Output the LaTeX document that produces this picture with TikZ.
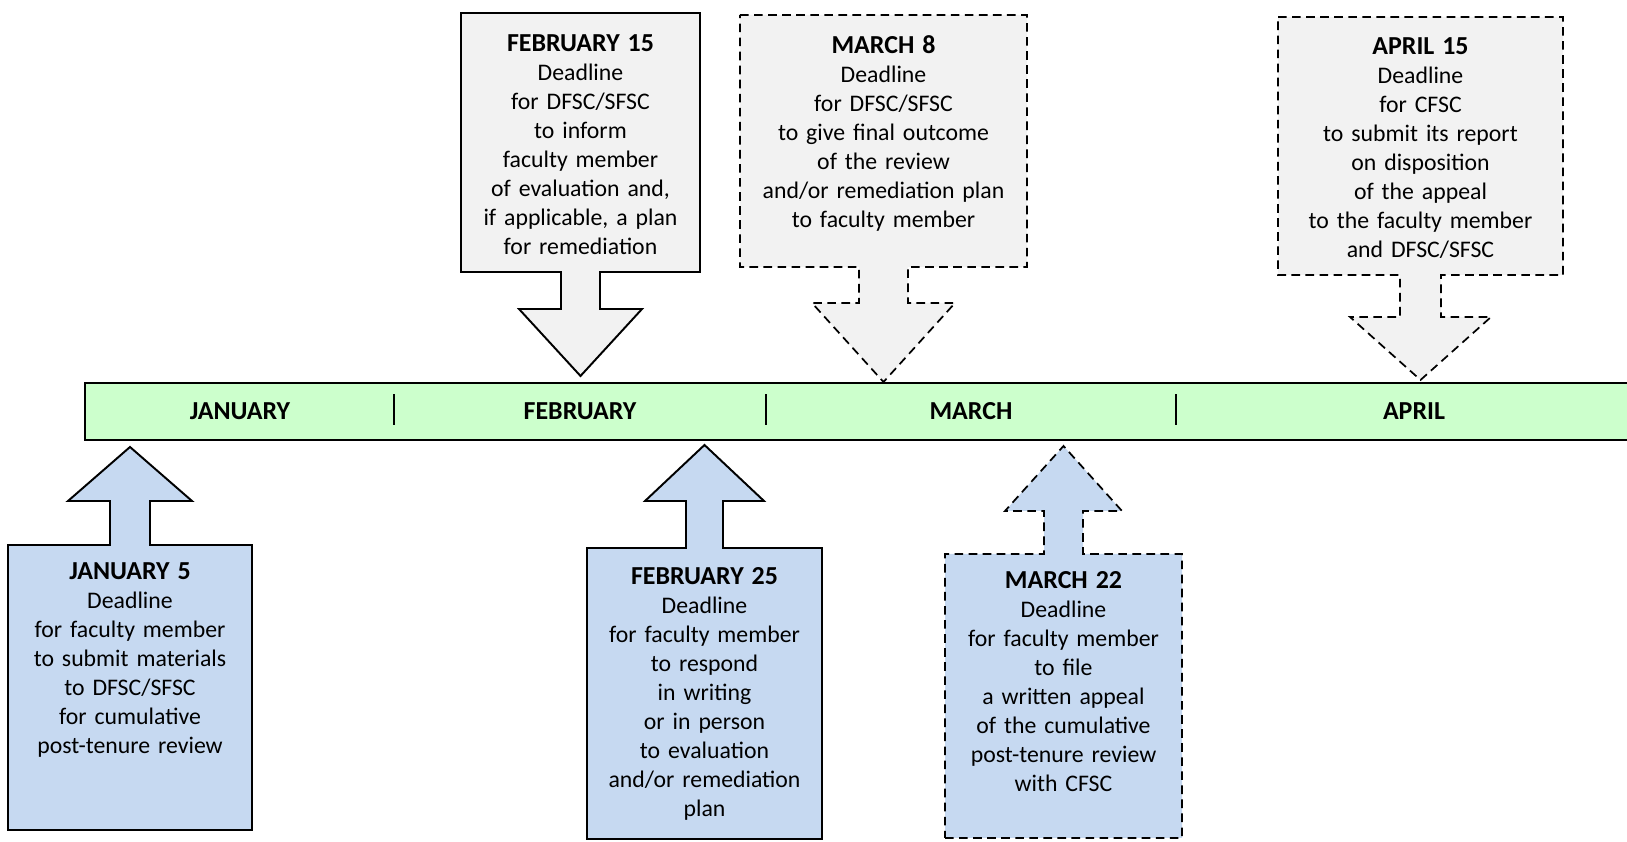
\documentclass[tikz,border=0pt]{standalone}
\usepackage{fontspec}
\setmainfont{Carlito}
\usepackage{xcolor}
\definecolor{BarGreen}{HTML}{CCFFCC}
\definecolor{CallBlue}{HTML}{C6D9F1}
\definecolor{CallGrey}{HTML}{F2F2F2}

\begin{document}
\begin{tikzpicture}[x=1.626cm, y=1.626cm,
    solidcall/.style={draw=black, line width=0.9pt},
    dashcall/.style={draw=black, line width=0.8pt, dash pattern=on 4pt off 2.5pt},
    calltext/.style={anchor=base, align=center, inner sep=0pt, text width=6cm,
      font=\fontsize{11}{13.4}\selectfont},
    monthlabel/.style={font=\bfseries\fontsize{12}{14}\selectfont}]
  \useasboundingbox (0,0) rectangle (16.27,8.42);
  % Timeline bar
  \fill[BarGreen] (0.85,4.02) rectangle (16.4,4.59);
  \draw[line width=1.15pt] (16.4,4.02) -- (0.85,4.02) -- (0.85,4.59) -- (16.4,4.59);
  % month separators
  \foreach \x in {3.94,7.66,11.76}
    \draw[line width=0.9pt] (\x,4.17) -- (\x,4.48);
  % Months
  \node[monthlabel] (jan) at (2.40,4.31) {JANUARY};
  \node[monthlabel] (feb) at (5.80,4.31) {FEBRUARY};
  \node[monthlabel] (mar) at (9.71,4.31) {MARCH};
  \node[monthlabel] (apr) at (14.14,4.31) {APRIL};

  % Callouts above the bar
  \draw[solidcall, fill=CallGrey] (4.61,8.29) -- (7.00,8.29) -- (7.00,5.70) -- (6.00,5.70)
    -- (6.00,5.33) -- (6.42,5.33) -- (5.805,4.66) -- (5.19,5.33) -- (5.61,5.33)
    -- (5.61,5.70) -- (4.61,5.70) -- cycle;
  \draw[dashcall, fill=CallGrey] (7.40,8.27) -- (10.27,8.27) -- (10.27,5.75) -- (9.08,5.75)
    -- (9.08,5.39) -- (9.55,5.39) -- (8.835,4.60) -- (8.12,5.39) -- (8.59,5.39)
    -- (8.59,5.75) -- (7.40,5.75) -- cycle;
  \draw[dashcall, fill=CallGrey] (12.78,8.25) -- (15.63,8.25) -- (15.63,5.67) -- (14.41,5.67)
    -- (14.41,5.25) -- (14.91,5.25) -- (14.205,4.62) -- (13.50,5.25) -- (14.00,5.25)
    -- (14.00,5.67) -- (12.78,5.67) -- cycle;

  % Callouts below the bar
  \draw[solidcall, fill=CallBlue] (0.08,0.12) -- (2.52,0.12) -- (2.52,2.97) -- (1.50,2.97)
    -- (1.50,3.41) -- (1.92,3.41) -- (1.30,3.95) -- (0.68,3.41) -- (1.10,3.41)
    -- (1.10,2.97) -- (0.08,2.97) -- cycle;
  \draw[solidcall, fill=CallBlue] (5.87,0.03) -- (8.22,0.03) -- (8.22,2.94) -- (7.23,2.94)
    -- (7.23,3.41) -- (7.64,3.41) -- (7.045,3.97) -- (6.45,3.41) -- (6.86,3.41)
    -- (6.86,2.94) -- (5.87,2.94) -- cycle;
  \draw[dashcall, fill=CallBlue] (9.45,0.04) -- (11.82,0.04) -- (11.82,2.88) -- (10.83,2.88)
    -- (10.83,3.31) -- (11.22,3.31) -- (10.635,3.96) -- (10.05,3.31) -- (10.44,3.31)
    -- (10.44,2.88) -- (9.45,2.88) -- cycle;

  % Deadline texts
  \node[calltext] (feb15) at (5.805,7.90) {{\bfseries\fontsize{12}{13.4}\selectfont FEBRUARY 15}\\
    Deadline\\ for DFSC/SFSC\\ to inform\\ faculty member\\ of evaluation and,\\
    if applicable, a plan\\ for remediation};
  \node[calltext] (mar8) at (8.835,7.88) {{\bfseries\fontsize{12}{13.4}\selectfont MARCH 8}\\
    Deadline\\ for DFSC/SFSC\\ to give final outcome\\ of the review\\
    and/or remediation plan\\ to faculty member};
  \node[calltext] (apr15) at (14.205,7.87) {{\bfseries\fontsize{12}{13.4}\selectfont APRIL 15}\\
    Deadline\\ for CFSC\\ to submit its report\\ on disposition\\ of the appeal\\
    to the faculty member\\ and DFSC/SFSC};
  \node[calltext] (jan5) at (1.30,2.62) {{\bfseries\fontsize{12}{13.4}\selectfont JANUARY 5}\\
    Deadline\\ for faculty member\\ to submit materials\\ to DFSC/SFSC\\
    for cumulative\\ post-tenure review};
  \node[calltext] (feb25) at (7.045,2.57) {{\bfseries\fontsize{12}{13.4}\selectfont FEBRUARY 25}\\
    Deadline\\ for faculty member\\ to respond\\ in writing\\ or in person\\
    to evaluation\\ and/or remediation\\ plan};
  \node[calltext] (mar22) at (10.635,2.53) {{\bfseries\fontsize{12}{13.4}\selectfont MARCH 22}\\
    Deadline\\ for faculty member\\ to file\\ a written appeal\\ of the cumulative\\
    post-tenure review\\ with CFSC};
\end{tikzpicture}
\end{document}
